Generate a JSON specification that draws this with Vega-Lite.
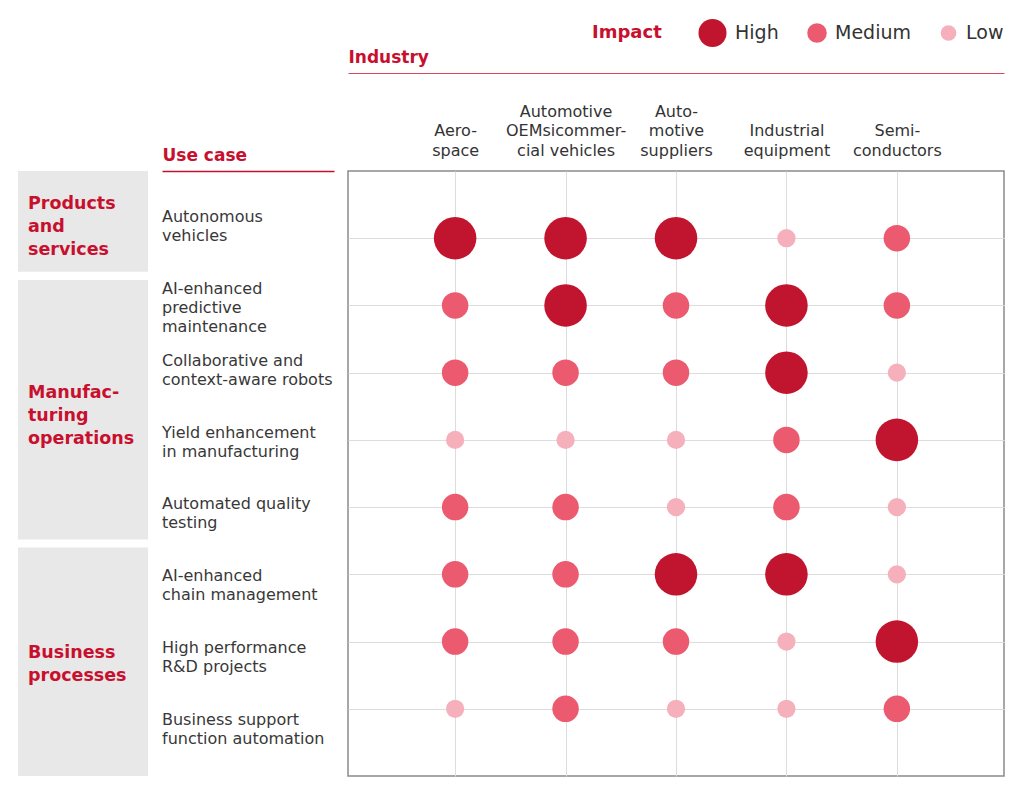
{
  "$schema": "https://vega.github.io/schema/vega-lite/v6.json",
  "padding": {"left": 18, "top": 16, "right": 19, "bottom": 16},
  "bounds": "flush",
  "spacing": 14,
  "config": {
    "font": "DejaVu Sans",
    "view": {"stroke": null},
    "legend": {
      "orient": "top",
      "offset": -1,
      "padding": 0,
      "direction": "horizontal",
      "titleOrient": "left",
      "titleFontSize": 18,
      "titleFontWeight": "bold",
      "titleColor": "#C8102E",
      "titlePadding": 36,
      "titleBaseline": "middle",
      "titleAnchor": "middle",
      "labelFontSize": 19,
      "labelColor": "#333333",
      "labelOffset": 8,
      "columnPadding": 28,
      "symbolOpacity": 1,
      "symbolStrokeWidth": 0,
      "symbolType": "circle",
      "clipHeight": 32,
      "layout": {"top": {"anchor": "end"}}
    }
  },
  "datasets": {
    "legend": [{"impact": "High"}, {"impact": "Medium"}, {"impact": "Low"}],
    "groups": [
      {"group": "Products\nand\nservices", "start": 0, "end": 1.5},
      {"group": "Manufac-\nturing\noperations", "start": 1.62, "end": 5.48},
      {"group": "Business\nprocesses", "start": 5.6, "end": 9}
    ],
    "usecases": [
      {"usecase": "Autonomous\nvehicles"},
      {"usecase": "AI-enhanced\npredictive\nmaintenance"},
      {"usecase": "Collaborative and\ncontext-aware robots"},
      {"usecase": "Yield enhancement\nin manufacturing"},
      {"usecase": "Automated quality\ntesting"},
      {"usecase": "AI-enhanced\nchain management"},
      {"usecase": "High performance\nR&D projects"},
      {"usecase": "Business support\nfunction automation"}
    ],
    "cells": [
      {"usecase": "Autonomous\nvehicles", "industry": "Aero-\nspace", "impact": "High"},
      {"usecase": "Autonomous\nvehicles", "industry": "Automotive\nOEMsicommer-\ncial vehicles", "impact": "High"},
      {"usecase": "Autonomous\nvehicles", "industry": "Auto-\nmotive\nsuppliers", "impact": "High"},
      {"usecase": "Autonomous\nvehicles", "industry": "Industrial\nequipment", "impact": "Low"},
      {"usecase": "Autonomous\nvehicles", "industry": "Semi-\nconductors", "impact": "Medium"},
      {"usecase": "AI-enhanced\npredictive\nmaintenance", "industry": "Aero-\nspace", "impact": "Medium"},
      {"usecase": "AI-enhanced\npredictive\nmaintenance", "industry": "Automotive\nOEMsicommer-\ncial vehicles", "impact": "High"},
      {"usecase": "AI-enhanced\npredictive\nmaintenance", "industry": "Auto-\nmotive\nsuppliers", "impact": "Medium"},
      {"usecase": "AI-enhanced\npredictive\nmaintenance", "industry": "Industrial\nequipment", "impact": "High"},
      {"usecase": "AI-enhanced\npredictive\nmaintenance", "industry": "Semi-\nconductors", "impact": "Medium"},
      {"usecase": "Collaborative and\ncontext-aware robots", "industry": "Aero-\nspace", "impact": "Medium"},
      {"usecase": "Collaborative and\ncontext-aware robots", "industry": "Automotive\nOEMsicommer-\ncial vehicles", "impact": "Medium"},
      {"usecase": "Collaborative and\ncontext-aware robots", "industry": "Auto-\nmotive\nsuppliers", "impact": "Medium"},
      {"usecase": "Collaborative and\ncontext-aware robots", "industry": "Industrial\nequipment", "impact": "High"},
      {"usecase": "Collaborative and\ncontext-aware robots", "industry": "Semi-\nconductors", "impact": "Low"},
      {"usecase": "Yield enhancement\nin manufacturing", "industry": "Aero-\nspace", "impact": "Low"},
      {"usecase": "Yield enhancement\nin manufacturing", "industry": "Automotive\nOEMsicommer-\ncial vehicles", "impact": "Low"},
      {"usecase": "Yield enhancement\nin manufacturing", "industry": "Auto-\nmotive\nsuppliers", "impact": "Low"},
      {"usecase": "Yield enhancement\nin manufacturing", "industry": "Industrial\nequipment", "impact": "Medium"},
      {"usecase": "Yield enhancement\nin manufacturing", "industry": "Semi-\nconductors", "impact": "High"},
      {"usecase": "Automated quality\ntesting", "industry": "Aero-\nspace", "impact": "Medium"},
      {"usecase": "Automated quality\ntesting", "industry": "Automotive\nOEMsicommer-\ncial vehicles", "impact": "Medium"},
      {"usecase": "Automated quality\ntesting", "industry": "Auto-\nmotive\nsuppliers", "impact": "Low"},
      {"usecase": "Automated quality\ntesting", "industry": "Industrial\nequipment", "impact": "Medium"},
      {"usecase": "Automated quality\ntesting", "industry": "Semi-\nconductors", "impact": "Low"},
      {"usecase": "AI-enhanced\nchain management", "industry": "Aero-\nspace", "impact": "Medium"},
      {"usecase": "AI-enhanced\nchain management", "industry": "Automotive\nOEMsicommer-\ncial vehicles", "impact": "Medium"},
      {"usecase": "AI-enhanced\nchain management", "industry": "Auto-\nmotive\nsuppliers", "impact": "High"},
      {"usecase": "AI-enhanced\nchain management", "industry": "Industrial\nequipment", "impact": "High"},
      {"usecase": "AI-enhanced\nchain management", "industry": "Semi-\nconductors", "impact": "Low"},
      {"usecase": "High performance\nR&D projects", "industry": "Aero-\nspace", "impact": "Medium"},
      {"usecase": "High performance\nR&D projects", "industry": "Automotive\nOEMsicommer-\ncial vehicles", "impact": "Medium"},
      {"usecase": "High performance\nR&D projects", "industry": "Auto-\nmotive\nsuppliers", "impact": "Medium"},
      {"usecase": "High performance\nR&D projects", "industry": "Industrial\nequipment", "impact": "Low"},
      {"usecase": "High performance\nR&D projects", "industry": "Semi-\nconductors", "impact": "High"},
      {"usecase": "Business support\nfunction automation", "industry": "Aero-\nspace", "impact": "Low"},
      {"usecase": "Business support\nfunction automation", "industry": "Automotive\nOEMsicommer-\ncial vehicles", "impact": "Medium"},
      {"usecase": "Business support\nfunction automation", "industry": "Auto-\nmotive\nsuppliers", "impact": "Low"},
      {"usecase": "Business support\nfunction automation", "industry": "Industrial\nequipment", "impact": "Low"},
      {"usecase": "Business support\nfunction automation", "industry": "Semi-\nconductors", "impact": "Medium"}
    ]
  },
  "hconcat": [
    {
      "width": 130,
      "height": 605,
      "data": {"name": "groups"},
      "transform": [{"calculate": "(datum.start + datum.end) / 2", "as": "mid"}],
      "layer": [
        {
          "mark": {"type": "rect", "color": "#E8E8E8"},
          "encoding": {
            "x": {"datum": 0, "type": "quantitative", "scale": {"domain": [0, 1], "nice": false}, "axis": null},
            "x2": {"datum": 1},
            "y": {"field": "start", "type": "quantitative", "scale": {"domain": [0, 9], "nice": false, "reverse": true}, "axis": null},
            "y2": {"field": "end"}
          }
        },
        {
          "transform": [{"filter": "length(split(datum.group, '\\n')) == 3"}],
          "mark": {"type": "text", "align": "left", "baseline": "middle", "dx": 10, "dy": -17, "fontSize": 17.5, "fontWeight": "bold", "color": "#C8102E", "lineBreak": "\n", "lineHeight": 23},
          "encoding": {
            "x": {"datum": 0, "type": "quantitative"},
            "y": {"field": "mid", "type": "quantitative"},
            "text": {"field": "group"}
          }
        },
        {
          "transform": [{"filter": "length(split(datum.group, '\\n')) == 2"}],
          "mark": {"type": "text", "align": "left", "baseline": "middle", "dx": 10, "dy": -8.5, "fontSize": 17.5, "fontWeight": "bold", "color": "#C8102E", "lineBreak": "\n", "lineHeight": 23},
          "encoding": {
            "x": {"datum": 0, "type": "quantitative"},
            "y": {"field": "mid", "type": "quantitative"},
            "text": {"field": "group"}
          }
        }
      ]
    },
    {
      "width": 172,
      "height": 605,
      "data": {"name": "usecases"},
      "mark": {"type": "text", "align": "left", "baseline": "middle", "dy": -5, "fontSize": 16, "color": "#383838", "lineBreak": "\n", "lineHeight": 19},
      "encoding": {
        "x": {
          "datum": 0, "type": "quantitative",
          "scale": {"domain": [0, 1], "nice": false},
          "axis": {"orient": "top", "domain": true, "domainColor": "#C8102E", "domainWidth": 1.5, "labels": false, "ticks": false, "grid": false, "title": "Use case", "titleAnchor": "start", "titleAlign": "left", "titleFontSize": 17, "titleFontWeight": "bold", "titleColor": "#C8102E", "titlePadding": 7}
        },
        "y": {"field": "usecase", "type": "nominal", "sort": null, "scale": {"type": "point", "padding": 0.71}, "axis": null},
        "text": {"field": "usecase"}
      }
    },
    {
      "width": 656,
      "height": 605,
      "view": {"stroke": "#8A8A8A", "strokeWidth": 1.5},
      "data": {"name": "cells"},
      "layer": [
        {
          "mark": {"type": "point", "opacity": 0},
          "encoding": {
            "x": {
              "field": "industry", "type": "nominal",
              "sort": ["Aero-\nspace", "Automotive\nOEMsicommer-\ncial vehicles", "Auto-\nmotive\nsuppliers", "Industrial\nequipment", "Semi-\nconductors"],
              "scale": {"type": "point", "padding": 0.97},
              "axis": {"orient": "top", "offset": 98, "domain": true, "domainColor": "#D9475B", "domainWidth": 1, "labels": false, "ticks": false, "grid": false, "title": "Industry", "titleAnchor": "start", "titleAlign": "left", "titleFontSize": 17, "titleFontWeight": "bold", "titleColor": "#C8102E", "titlePadding": 7}
            },
            "y": {
              "field": "usecase", "type": "nominal",
              "sort": ["Autonomous\nvehicles", "AI-enhanced\npredictive\nmaintenance", "Collaborative and\ncontext-aware robots", "Yield enhancement\nin manufacturing", "Automated quality\ntesting", "AI-enhanced\nchain management", "High performance\nR&D projects", "Business support\nfunction automation"],
              "scale": {"type": "point", "padding": 1},
              "axis": {"labels": false, "ticks": false, "domain": false, "grid": true, "gridColor": "#DDDDDD", "title": null}
            }
          }
        },
        {
          "mark": {"type": "circle", "opacity": 1},
          "encoding": {
            "x": {
              "field": "industry", "type": "nominal",
              "sort": ["Aero-\nspace", "Automotive\nOEMsicommer-\ncial vehicles", "Auto-\nmotive\nsuppliers", "Industrial\nequipment", "Semi-\nconductors"],
              "scale": {"type": "point", "padding": 0.97},
              "axis": {"orient": "top", "labelExpr": "length(split(datum.label, '\\n')) == 3 ? split(datum.label, '\\n') : split(' \\n' + datum.label, '\\n')", "labelAngle": 0, "labelFontSize": 16, "labelColor": "#333333", "labelLineHeight": 19.5, "labelPadding": 52, "labelOverlap": false, "ticks": false, "tickSize": 0, "domain": false, "grid": true, "gridColor": "#DDDDDD", "title": null}
            },
            "y": {
              "field": "usecase", "type": "nominal",
              "sort": ["Autonomous\nvehicles", "AI-enhanced\npredictive\nmaintenance", "Collaborative and\ncontext-aware robots", "Yield enhancement\nin manufacturing", "Automated quality\ntesting", "AI-enhanced\nchain management", "High performance\nR&D projects", "Business support\nfunction automation"]
            },
            "color": {
              "field": "impact", "type": "nominal",
              "scale": {"domain": ["High", "Medium", "Low"], "range": ["#C1142E", "#EB5A6E", "#F6B0BC"]},
              "legend": null
            },
            "size": {
              "field": "impact", "type": "nominal",
              "scale": {"type": "point", "padding": 0, "domain": ["Low", "Medium", "_a", "_b", "High"], "range": [333, 1809]},
              "legend": null
            }
          }
        },
        {
          "data": {"name": "legend"},
          "mark": {"type": "circle", "opacity": 0},
          "encoding": {
            "color": {
              "field": "impact", "type": "nominal",
              "scale": {"domain": ["Low", "Medium", "_a", "_b", "High"], "range": ["#F6B0BC", "#EB5A6E", "#FFFFFF", "#FFFFFF", "#C1142E"]},
              "legend": {"title": "Impact", "values": ["High", "Medium", "Low"]}
            },
            "size": {
              "field": "impact", "type": "nominal",
              "scale": {"type": "point", "padding": 0, "domain": ["Low", "Medium", "_a", "_b", "High"], "range": [245, 785]},
              "legend": {"title": "Impact", "values": ["High", "Medium", "Low"]}
            }
          }
        }
      ],
      "resolve": {"scale": {"x": "independent", "color": "independent", "size": "independent"}}
    }
  ]
}
